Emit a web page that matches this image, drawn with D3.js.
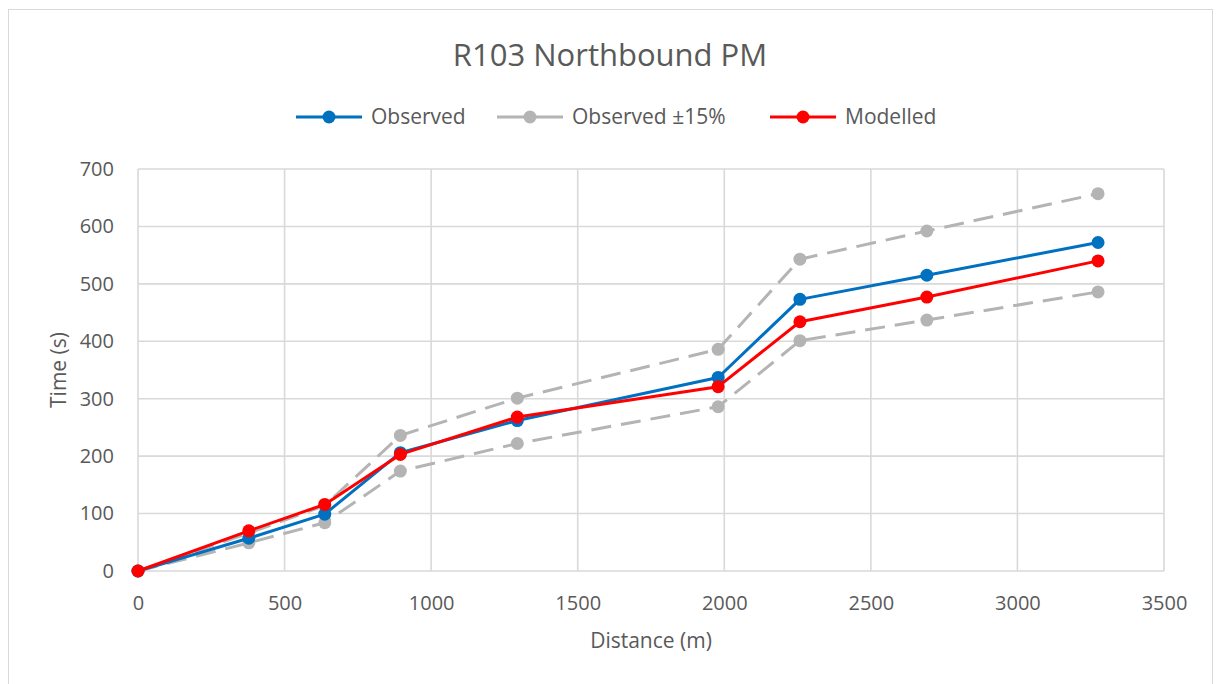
<!DOCTYPE html>
<html>
<head>
<meta charset="utf-8">
<script src="https://cdn.jsdelivr.net/npm/d3@7"></script>
<style>
  html, body { margin: 0; padding: 0; background: #fff; }
  svg { display: block; }
  text { font-family: "Open Sans", "Noto Sans", sans-serif; fill: #595959; }
</style>
</head>
<body>
<svg id="chart" width="1216" height="684"></svg>
<script>
// Travel time along the route, by cumulative distance
const distance   = [0, 378, 637, 895, 1294, 1979, 2258, 2691, 3275];
const observed   = [0, 57, 99, 206, 262, 337, 473, 515, 572];
const upper15    = [0, 66, 114, 236, 301, 386, 543, 592, 657];
const lower15    = [0, 49, 84, 174, 222, 286, 401, 437, 486];
const modelled   = [0, 70, 116, 203, 268, 321, 434, 477, 540];

const xTicks = [0, 500, 1000, 1500, 2000, 2500, 3000, 3500];
const yTicks = [0, 100, 200, 300, 400, 500, 600, 700];

const title = "R103 Northbound PM";
const xTitle = "Distance (m)";
const yTitle = "Time (s)";

const colBlue = "#0070c0", colGrey = "#b4b4b4", colRed = "#ff0000";

const svg = d3.select("#chart");

// outer chart frame
svg.append("rect")
  .attr("x", 8.5).attr("y", 9.5).attr("width", 1204).attr("height", 680)
  .attr("fill", "#fff").attr("stroke", "#d9d9d9").attr("stroke-width", 1);

const plot = { left: 138, right: 1164, top: 169, bottom: 571 };

const x = d3.scaleLinear().domain([0, 3500]).range([plot.left, plot.right]);
const y = d3.scaleLinear().domain([0, 700]).range([plot.bottom, plot.top]);

// gridlines
const grid = svg.append("g");
grid.selectAll(".gx").data(xTicks).join("line")
  .attr("x1", d => x(d)).attr("x2", d => x(d))
  .attr("y1", plot.top).attr("y2", plot.bottom)
  .attr("stroke", "#d9d9d9").attr("stroke-width", 1.6);
grid.selectAll(".gy").data(yTicks).join("line")
  .attr("x1", plot.left).attr("x2", plot.right)
  .attr("y1", d => y(d)).attr("y2", d => y(d))
  .attr("stroke", "#d9d9d9").attr("stroke-width", 1.6);

// axes (labels only, lines come from the grid)
const fmt = d3.format("d");
const xAxis = svg.append("g")
  .attr("transform", `translate(0,${plot.bottom})`)
  .call(d3.axisBottom(x).tickValues(xTicks).tickFormat(fmt).tickSize(0).tickPadding(25));
const yAxis = svg.append("g")
  .attr("transform", `translate(${plot.left},0)`)
  .call(d3.axisLeft(y).tickValues(yTicks).tickFormat(fmt).tickSize(0).tickPadding(24));
[xAxis, yAxis].forEach(a => {
  a.select(".domain").remove();
  a.selectAll("text").attr("font-size", 20).attr("fill", "#595959")
    .style("font-family", "'Open Sans', sans-serif");
});

// series
const series = [
  { name: "Observed ±15%", vals: upper15, color: colGrey, dash: "20,10" },
  { name: "Observed ±15%", vals: lower15, color: colGrey, dash: "20,10" },
  { name: "Observed", vals: observed, color: colBlue, dash: null },
  { name: "Modelled", vals: modelled, color: colRed, dash: null }
];

const line = d3.line().x(d => x(d[0])).y(d => y(d[1]));

series.forEach(s => {
  const pts = distance.map((d, i) => [d, s.vals[i]]);
  const g = svg.append("g");
  g.append("path").datum(pts)
    .attr("d", line).attr("fill", "none")
    .attr("stroke", s.color).attr("stroke-width", 3)
    .attr("stroke-dasharray", s.dash)
    .attr("stroke-linejoin", "round");
  g.selectAll("circle").data(pts).join("circle")
    .attr("cx", d => x(d[0])).attr("cy", d => y(d[1]))
    .attr("r", 6.5).attr("fill", s.color);
});

// title
svg.append("text")
  .attr("x", 610).attr("y", 66).attr("text-anchor", "middle")
  .attr("font-size", 31).text(title);

// legend
const legendItems = [
  { name: "Observed", color: colBlue, x0: 296 },
  { name: "Observed ±15%", color: colGrey, x0: 497 },
  { name: "Modelled", color: colRed, x0: 770 }
];
const lg = svg.append("g");
legendItems.forEach(it => {
  lg.append("line")
    .attr("x1", it.x0).attr("x2", it.x0 + 66)
    .attr("y1", 117).attr("y2", 117)
    .attr("stroke", it.color).attr("stroke-width", 3);
  lg.append("circle").attr("cx", it.x0 + 33).attr("cy", 117).attr("r", 6.5).attr("fill", it.color);
  lg.append("text").attr("x", it.x0 + 75).attr("y", 124)
    .attr("font-size", 21).text(it.name);
});

// axis titles
svg.append("text")
  .attr("x", (plot.left + plot.right) / 2).attr("y", 648)
  .attr("text-anchor", "middle").attr("font-size", 21).text(xTitle);
svg.append("text")
  .attr("transform", `translate(66,${(plot.top + plot.bottom) / 2}) rotate(-90)`)
  .attr("text-anchor", "middle").attr("font-size", 21).text(yTitle);
</script>
</body>
</html>
